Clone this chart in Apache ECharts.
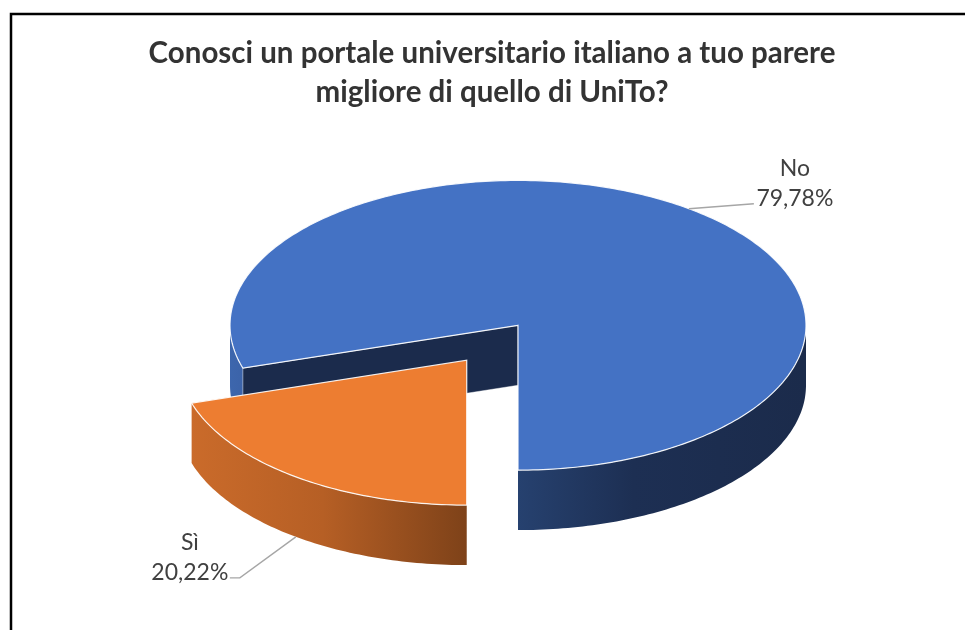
<!DOCTYPE html>
<html>
<head>
<meta charset="utf-8">
<script src="https://cdn.jsdelivr.net/npm/echarts@6/dist/echarts.min.js"></script>
<style>
html, body { margin: 0; padding: 0; background: #fff; }
#main { width: 965px; height: 630px; }
</style>
</head>
<body>
<div id="main"></div>
<script>
// data
var categories = ['Sì', 'No'];
var values = [20.22, 79.78];

// look of each slice
var explode = [0.30, 0];
var topColors = ['#ED7D31', '#4472C4'];
var cutColors = ['#8a481b', '#1b2b4c'];
var wallStops = [
    [[0, '#cc6c2b'], [0.25, '#b65f25'], [0.5, '#7e4219'], [1, '#6a3714']],
    [[0, '#3d66ad'], [0.05, '#3a60a4'], [0.5, '#26416f'], [0.7, '#1d2f53'], [1, '#1b2b4b']]
];
// label layout, pixels relative to the slice anchor
var labelOffset = [[-106, 21], [106, -25]];
var leaderOffset = [[[-56, 41], [-66, 41]], [[65, -5]]];

var startAngle = 180;   // clockwise from 12 o'clock
var depth = 0.414;      // thickness in y units
var fontName = 'Lato';

function rad(a) { return a * Math.PI / 180; }

function renderItem(params, api) {
    var i = params.dataIndex;
    var total = values.reduce(function (a, b) { return a + b; }, 0);
    var before = 0;
    for (var k = 0; k < i; k++) before += values[k];
    var a0 = startAngle + before / total * 360;
    var a1 = a0 + api.value(1) / total * 360;
    var mid = (a0 + a1) / 2;
    var ou = explode[i] * Math.sin(rad(mid));
    var ov = explode[i] * Math.cos(rad(mid));

    function pt(a, level) {
        return api.coord([ou + Math.sin(rad(a)), ov + Math.cos(rad(a)) - level * depth]);
    }
    function ctr(level) {
        return api.coord([ou, ov - level * depth]);
    }
    function arc(from, to, level) {
        var n = Math.max(2, Math.ceil(Math.abs(to - from)));
        var out = [];
        for (var s = 0; s <= n; s++) out.push(pt(from + (to - from) * s / n, level));
        return out;
    }

    var zb = explode[i] > 0 ? 20 : 0;
    var children = [];
    var gx0 = api.coord([ou - 1, 0])[0], gx1 = api.coord([ou + 1, 0])[0];
    var grad = new echarts.graphic.LinearGradient(gx0, 0, gx1, 0,
        wallStops[i].map(function (s) { return { offset: s[0], color: s[1] }; }), true);

    // outer wall, only the front half shows
    for (var m = -1; m <= 2; m++) {
        var lo = Math.max(a0, 90 + 360 * m), hi = Math.min(a1, 270 + 360 * m);
        if (hi > lo) {
            children.push({
                type: 'polygon', z2: zb + 1,
                shape: { points: arc(lo, hi, 0).concat(arc(hi, lo, 1)) },
                style: { fill: grad }
            });
        }
    }
    // cut faces facing the viewer
    [[a0, a0 - 90], [a1, a1 + 90]].forEach(function (f) {
        if (Math.cos(rad(f[1])) < -1e-6) {
            children.push({
                type: 'polygon', z2: zb + 2,
                shape: { points: [ctr(0), pt(f[0], 0), pt(f[0], 1), ctr(1)] },
                style: { fill: cutColors[i], stroke: 'rgba(255,255,255,0.5)', lineWidth: 0.8 }
            });
        }
    });
    // top face
    children.push({
        type: 'polygon', z2: zb + 3,
        shape: { points: [ctr(0)].concat(arc(a0, a1, 0)) },
        style: { fill: topColors[i], stroke: 'rgba(255,255,255,0.9)', lineWidth: 1.2 }
    });

    // label with leader line
    var front = Math.cos(rad(mid)) < 0;
    var anc = pt(mid, front ? 1 : 0);
    var lpts = [anc].concat(leaderOffset[i].map(function (o) { return [anc[0] + o[0], anc[1] + o[1]]; }));
    children.push({
        type: 'polyline', z2: 50,
        shape: { points: lpts },
        style: { stroke: '#a6a6a6', lineWidth: 1.4, fill: null }
    });
    children.push({
        type: 'text', z2: 51,
        x: anc[0] + labelOffset[i][0], y: anc[1] + labelOffset[i][1],
        style: {
            text: categories[i] + '\n' + values[i].toFixed(2).replace('.', ',') + '%',
            fill: '#404040', font: '23px ' + fontName, lineHeight: 30,
            align: 'center', verticalAlign: 'middle'
        }
    });
    return { type: 'group', children: children };
}

var option = {
    animation: false,
    backgroundColor: '#fff',
    title: {
        text: 'Conosci un portale universitario italiano a tuo parere\nmigliore di quello di UniTo?',
        left: 492, top: 34, textAlign: 'center', padding: 0,
        textStyle: { fontFamily: fontName, fontWeight: 'bold', fontSize: 29.5, lineHeight: 39, color: '#333' }
    },
    graphic: [{
        type: 'polyline',
        shape: { points: [[11, 630], [11, 14], [965, 14]] },
        style: { stroke: '#000', lineWidth: 2.5, fill: null }
    }],
    grid: { left: 86, right: 15, top: 108, bottom: 15 },
    xAxis: { type: 'value', min: -1.5, max: 1.5, show: false },
    yAxis: { type: 'value', min: -2, max: 1.5, show: false },
    series: [{
        type: 'custom',
        renderItem: renderItem,
        data: values.map(function (v, i) { return { name: categories[i], value: [i, v] }; })
    }]
};

var myChart = echarts.init(document.getElementById('main'));
myChart.setOption(option);
</script>
</body>
</html>
